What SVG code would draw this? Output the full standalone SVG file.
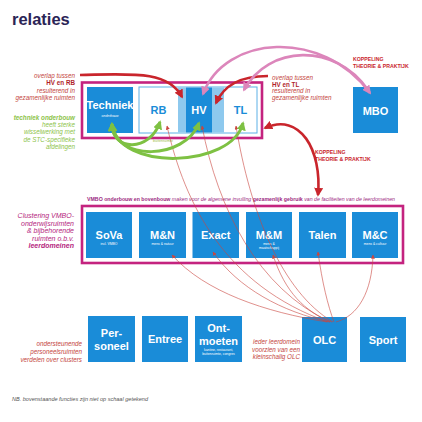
<svg xmlns="http://www.w3.org/2000/svg" width="422" height="422" viewBox="0 0 422 422">
<style>
text{font-family:"Liberation Sans",Arial,sans-serif}
.box{fill:#1a8cd8}
.t{fill:#fff;font-weight:bold;font-size:11px;text-anchor:middle}
.st{fill:#fff;font-size:3.4px;text-anchor:middle}
.frame{fill:none;stroke:#c4237f;stroke-width:2.6}
.lbl{fill:#c4453e;font-style:italic;font-size:6.3px;text-anchor:end}
.lblr{fill:#c4453e;font-style:italic;font-size:6.3px}
.b{font-weight:bold;font-style:normal;fill:#b01e2a}
.grn{fill:#8dc34a;font-style:italic;font-size:6.3px;text-anchor:end}
.mag{fill:#b5267e;font-style:italic;font-size:7px;text-anchor:end}
.kop{fill:#c9252c;font-weight:bold;font-size:5.2px}
.thin{fill:none;stroke:#c9453e;stroke-width:0.6;marker-start:url(#sa)}
.red{fill:none;stroke:#c9252c;stroke-width:2.6}
.pink{fill:none;stroke:#dc86bb;stroke-width:2.6}
.green{fill:none;stroke:#7ec143;stroke-width:3;marker-start:url(#ga);marker-end:url(#ga)}
</style>
<defs>
<marker id="ra" viewBox="0 0 10 10" refX="8" refY="5" markerWidth="9" markerHeight="9" markerUnits="userSpaceOnUse" orient="auto-start-reverse"><path d="M0,0 L10,5 L0,10 z" fill="#c9252c"/></marker>
<marker id="pa" viewBox="0 0 10 10" refX="8" refY="5" markerWidth="9" markerHeight="9" markerUnits="userSpaceOnUse" orient="auto-start-reverse"><path d="M0,0 L10,5 L0,10 z" fill="#dc86bb"/></marker>
<marker id="ga" viewBox="0 0 10 10" refX="8" refY="5" markerWidth="9" markerHeight="9" markerUnits="userSpaceOnUse" orient="auto-start-reverse"><path d="M0,0 L10,5 L0,10 z" fill="#7ec143"/></marker>
<marker id="sa" viewBox="0 0 10 10" refX="9" refY="5" markerWidth="4" markerHeight="4" markerUnits="userSpaceOnUse" orient="auto-start-reverse"><path d="M0,0 L10,5 L0,10 z" fill="#c9453e"/></marker>
</defs>

<rect width="422" height="422" fill="#fff"/>
<text x="12" y="25" font-size="16.5" font-weight="bold" fill="#2b2456">relaties</text>

<!-- top frame -->
<g id="top-frame">
<rect x="82" y="82.5" width="180" height="55.5" fill="#fff" class="frame"/>
<rect x="139" y="87" width="118" height="46" fill="#fff" stroke="#5cb0e6" stroke-width="1"/>
<rect x="178" y="87.5" width="8" height="45" fill="#8ec9ee"/>
<rect x="212" y="87.5" width="12" height="45" fill="#8ec9ee"/>
</g>
<g id="techniek"><rect class="box" x="87" y="87" width="46" height="46"/><text class="t" x="110" y="109">Techniek</text><text class="st" x="110" y="117" font-style="italic" font-size="4.3">onderbouw</text></g>
<g id="rb"><text x="158.5" y="114" font-size="11" font-weight="bold" fill="#1a8cd8" text-anchor="middle">RB</text></g>
<g id="hv"><rect class="box" x="186" y="87.5" width="26" height="45"/><text class="t" x="199" y="114">HV</text></g>
<g id="tl"><text x="240.5" y="114" font-size="11" font-weight="bold" fill="#1a8cd8" text-anchor="middle">TL</text></g>
<text x="163" y="142" font-size="3.6" fill="#9bbf45" text-anchor="middle">buitenruimte</text>

<g id="mbo"><rect class="box" x="353" y="87" width="45" height="46"/><text class="t" x="375.5" y="114.5" font-size="10">MBO</text></g>

<!-- middle frame -->
<g id="middle-frame">
<text x="87" y="201" font-size="4.8" fill="#9c2a7f" textLength="308" lengthAdjust="spacingAndGlyphs"><tspan font-weight="bold">VMBO onderbouw en bovenbouw</tspan><tspan font-style="italic"> maken voor de algemene invulling </tspan><tspan font-weight="bold">gezamenlijk gebruik</tspan><tspan font-style="italic"> van de faciliteiten van de leerdomeinen</tspan></text>
<rect x="82" y="206" width="321" height="57" fill="#fff" class="frame"/>
</g>
<g id="sova"><rect class="box" x="86" y="212" width="46" height="46"/><text class="t" x="109" y="239">SoVa</text><text class="st" x="109" y="245">incl. VMBO</text></g>
<g id="mn"><rect class="box" x="139" y="212" width="47" height="46"/><text class="t" x="162.5" y="239">M&amp;N</text><text class="st" x="162.5" y="245">mens &amp; natuur</text></g>
<g id="exact"><rect class="box" x="192.5" y="212" width="46.5" height="46"/><text class="t" x="215.7" y="239">Exact</text></g>
<g id="mm"><rect class="box" x="246" y="212" width="46" height="46"/><text class="t" x="269" y="239">M&amp;M</text><text class="st" x="269" y="244.5">mens &amp;</text><text class="st" x="269" y="248.5">maatschappij</text></g>
<g id="talen"><rect class="box" x="299" y="212" width="47" height="46"/><text class="t" x="322.5" y="239">Talen</text></g>
<g id="mc"><rect class="box" x="352" y="212" width="46" height="46"/><text class="t" x="375" y="239">M&amp;C</text><text class="st" x="375" y="245">mens &amp; cultuur</text></g>

<!-- bottom row -->
<g id="personeel"><rect class="box" x="88" y="316" width="47" height="46"/><text class="t" x="111.5" y="337">Per-</text><text class="t" x="111.5" y="349.5">soneel</text></g>
<g id="entree"><rect class="box" x="142" y="316" width="46" height="46"/><text class="t" x="165" y="343">Entree</text></g>
<g id="ontmoeten"><rect class="box" x="195" y="316" width="47" height="46"/><text class="t" x="218.5" y="332">Ont-</text><text class="t" x="218.5" y="345">moeten</text><text class="st" x="218.5" y="350.5">kantine, restaurant,</text><text class="st" x="218.5" y="354.5">buitenruimte, congres</text></g>
<g id="olc"><rect class="box" x="302" y="317" width="45" height="45"/><text class="t" x="324.5" y="343.5" font-size="10.5">OLC</text></g>
<g id="sport"><rect class="box" x="360" y="317" width="46" height="45"/><text class="t" x="383" y="343.5" font-size="10.5">Sport</text></g>

<!-- labels -->
<g id="labels">
<text class="lbl" x="75" y="78">overlap tussen</text>
<text class="lbl b" x="75" y="85">HV en RB</text>
<text class="lbl" x="75" y="92.5">resulterend in</text>
<text class="lbl" x="75" y="100">gezamenlijke ruimten</text>
<text x="75" y="120" class="grn" font-weight="bold" font-style="normal" fill="#6fb33a">techniek onderbouw</text>
<text class="grn" x="75" y="126.5">heeft sterke</text>
<text class="grn" x="75" y="134">wisselwerking met</text>
<text class="grn" x="75" y="141.5">de STC-specifieke</text>
<text class="grn" x="75" y="149">afdelingen</text>

<text class="lblr" x="272" y="80">overlap tussen</text>
<text class="lblr b" x="272" y="86.5">HV en TL</text>
<text class="lblr" x="272" y="93">resulterend in</text>
<text class="lblr" x="272" y="99.5">gezamenlijke ruimten</text>
<text class="kop" x="353" y="61">KOPPELING</text>
<text class="kop" x="353" y="68">THEORIE &amp; PRAKTIJK</text>
<text class="kop" x="315" y="154">KOPPELING</text>
<text class="kop" x="315" y="161">THEORIE &amp; PRAKTIJK</text>

<text class="mag" x="74" y="218">Clustering VMBO-</text>
<text class="mag" x="74" y="225.5">onderwijsruimten</text>
<text class="mag" x="74" y="233">&amp; bijbehorende</text>
<text class="mag" x="74" y="240.5">ruimten o.b.v.</text>
<text class="mag" x="74" y="248" font-weight="bold" font-style="normal" fill="#8b1a5e">leerdomeinen</text>

<text class="lbl" x="82" y="346">ondersteunende</text>
<text class="lbl" x="82" y="354">personeelsruimten</text>
<text class="lbl" x="82" y="362">verdelen over clusters</text>

<text class="lbl" x="300" y="344">ieder leerdomein</text>
<text class="lbl" x="300" y="351.5">voorzien van een</text>
<text class="lbl" x="300" y="359">kleinschalig OLC</text>

<text x="12" y="400.5" font-size="4.8" font-style="italic" fill="#555" textLength="136" lengthAdjust="spacingAndGlyphs">NB. bovenstaande functies zijn niet op schaal getekend</text>
</g>

<!-- connectors -->
<g id="connectors">
<path class="thin" d="M167,126 C 185,205 225,285 328,322"/>
<path class="thin" d="M202,126 C 218,210 258,288 330,322"/>
<path class="thin" d="M236,126 C 250,212 282,292 333,322"/>
<path class="thin" d="M172,255 C 205,292 265,312 327,322"/>
<path class="thin" d="M213,252 C 238,288 282,312 330,322"/>
<path class="thin" d="M273,255 C 285,292 305,312 332,322"/>
<path class="thin" d="M318,252 C 322,282 328,306 334,322"/>
<path class="thin" d="M373,255 C 372,292 358,316 336,322"/>

<path class="red" d="M80,75 C 130,74 168,70 182,97" marker-end="url(#ra)"/>
<path class="red" d="M268,76 C 240,76 224,85 216,103" marker-end="url(#ra)"/>
<path class="red" d="M265,128 C 300,112 322,150 318,195" marker-start="url(#ra)" marker-end="url(#ra)"/>

<path class="pink" d="M244,90 C 268,45 335,42 368,90" marker-start="url(#pa)"/>
<path class="pink" d="M203,94 C 225,35 322,28 370,93" marker-start="url(#pa)" marker-end="url(#pa)"/>

<path class="green" d="M112,124 C 112,152 150,152 160,122"/>
<path class="green" d="M112,124 C 115,162 185,160 199,123"/>
<path class="green" d="M112,124 C 118,172 232,168 243,123"/>
</g>
</svg>
